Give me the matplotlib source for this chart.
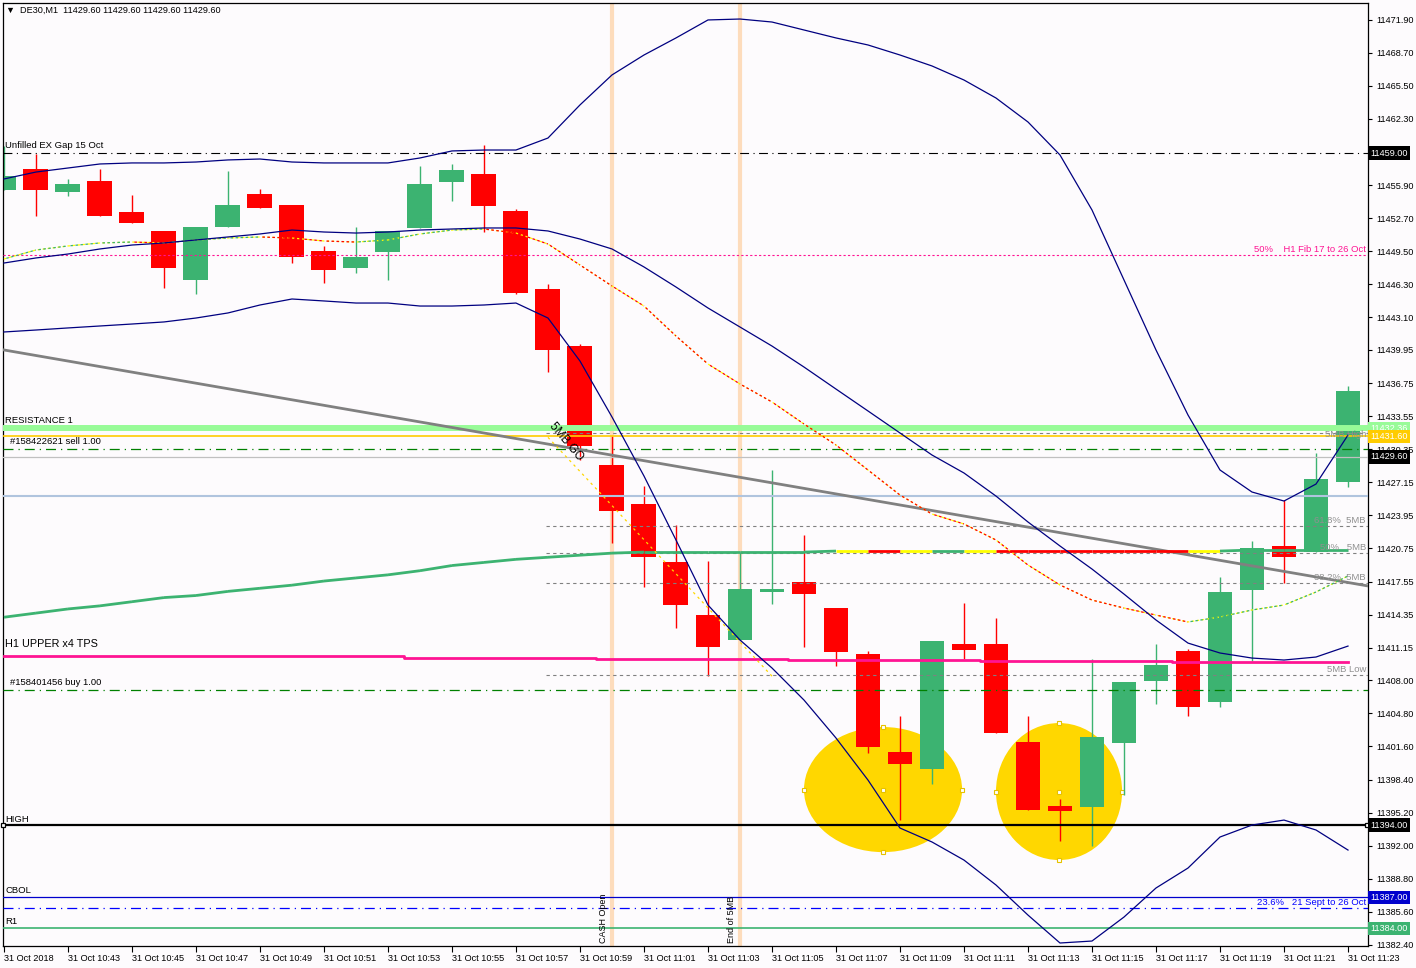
import matplotlib
matplotlib.use('Agg')
import matplotlib.pyplot as plt
import matplotlib.transforms as mtransforms
from matplotlib.patches import Ellipse, Rectangle

plt.rcParams['font.family'] = ['Liberation Sans', 'DejaVu Sans']

BG = '#fdfbfd'
GREEN = '#3cb371'
RED = '#ff0000'

# ---- DE30 M1 candles, 31 Oct 10:41 .. 11:23 ----
opens = [11455.4, 11457.5, 11455.2, 11456.3, 11453.3, 11451.5, 11446.7, 11451.8, 11455.0, 11454.0,
         11449.5, 11447.9, 11449.4, 11451.7, 11456.2, 11457.0, 11453.4, 11445.8, 11440.3, 11428.8,
         11425.1, 11419.4, 11414.3, 11411.9, 11416.5, 11417.5, 11415.0, 11410.5, 11401.1, 11399.4,
         11411.5, 11411.5, 11402.0, 11395.8, 11395.7, 11401.9, 11407.9, 11410.8, 11405.9, 11416.7,
         11421.0, 11420.4, 11427.2]
highs = [11459.7, 11458.9, 11456.5, 11457.5, 11454.9, 11451.5, 11451.8, 11457.3, 11455.5, 11454.0,
         11450.0, 11451.8, 11451.5, 11457.7, 11457.9, 11459.8, 11453.6, 11446.3, 11440.5, 11431.6,
         11426.8, 11423.0, 11419.5, 11420.4, 11428.3, 11422.1, 11415.0, 11410.8, 11404.5, 11411.8,
         11415.5, 11414.0, 11404.5, 11396.5, 11410.1, 11407.8, 11411.5, 11411.0, 11418.0, 11421.5,
         11425.4, 11430.0, 11436.5]
lows = [11455.4, 11452.9, 11454.8, 11452.9, 11452.2, 11445.9, 11445.4, 11451.8, 11453.7, 11448.4,
        11446.4, 11447.4, 11446.7, 11451.7, 11454.4, 11451.4, 11445.4, 11437.8, 11429.3, 11421.3,
        11417.0, 11413.1, 11408.4, 11411.9, 11415.4, 11411.2, 11409.4, 11401.0, 11394.5, 11398.0,
        11410.1, 11402.9, 11395.5, 11392.5, 11392.0, 11396.9, 11405.7, 11404.5, 11405.4, 11409.9,
        11417.4, 11420.4, 11426.7]
closes = [11456.8, 11455.4, 11456.0, 11452.9, 11452.2, 11447.9, 11451.8, 11454.0, 11453.7, 11448.9,
          11447.7, 11448.9, 11451.5, 11456.0, 11457.4, 11453.9, 11445.5, 11439.9, 11430.7, 11424.4,
          11419.9, 11415.3, 11411.2, 11416.8, 11416.8, 11416.3, 11410.7, 11401.5, 11399.9, 11411.8,
          11410.9, 11402.9, 11395.5, 11395.4, 11402.5, 11407.8, 11409.5, 11405.4, 11416.5, 11420.8,
          11419.9, 11427.5, 11436.0]

# bollinger bands
bb_upper = [11456.49, 11457.16, 11457.55, 11457.94, 11458.04, 11458.04, 11458.13, 11458.33, 11458.42, 11458.13,
            11458.04, 11458.04, 11458.04, 11458.52, 11459.20, 11459.29, 11459.29, 11460.45, 11463.65, 11466.55,
            11468.48, 11470.13, 11471.87, 11471.96, 11471.67, 11470.90, 11470.13, 11469.45, 11468.48, 11467.42,
            11466.06, 11464.32, 11462.00, 11458.81, 11453.49, 11446.72, 11439.95, 11433.66, 11428.34, 11426.21,
            11425.34, 11426.98, 11431.72]
bb_mid = [11448.36, 11448.85, 11449.23, 11449.72, 11450.10, 11450.30, 11450.59, 11450.88, 11451.17, 11451.55,
          11451.36, 11451.26, 11451.36, 11451.55, 11451.65, 11451.75, 11451.75, 11451.46, 11450.68, 11449.72,
          11447.98, 11446.04, 11444.01, 11442.17, 11440.33, 11438.30, 11436.17, 11434.05, 11431.92, 11429.79,
          11428.05, 11425.82, 11423.31, 11420.99, 11418.76, 11416.34, 11413.83, 11411.60, 11410.64, 11410.15,
          11409.96, 11410.25, 11411.31]
bb_lower = [11441.69, 11441.88, 11442.08, 11442.27, 11442.46, 11442.66, 11443.04, 11443.53, 11444.30, 11444.88,
            11444.69, 11444.49, 11444.49, 11444.20, 11444.20, 11444.30, 11444.49, 11443.04, 11438.88, 11433.47,
            11427.76, 11421.57, 11415.28, 11411.90, 11409.19, 11406.09, 11402.42, 11398.35, 11393.71, 11392.36,
            11390.61, 11388.20, 11385.29, 11382.59, 11382.78, 11385.10, 11387.91, 11389.84, 11392.84, 11394.00,
            11394.48, 11393.52, 11391.58]

# dotted moving average
ma_fast = [11448.75, 11449.62, 11450.01, 11450.30, 11450.39, 11450.30, 11450.59, 11450.78, 11450.88, 11450.78,
           11450.49, 11450.39, 11450.59, 11451.17, 11451.55, 11451.65, 11451.26, 11450.20, 11448.17, 11446.14,
           11444.20, 11441.30, 11438.59, 11436.66, 11434.92, 11432.79, 11430.76, 11428.34, 11425.92, 11424.08,
           11423.12, 11421.57, 11419.15, 11417.22, 11415.76, 11414.99, 11414.31, 11413.64, 11414.12, 11414.80,
           11415.28, 11416.54, 11418.09]

# thick slow moving average and its segment colours
ma_slow = [11414.1, 11414.5, 11414.9, 11415.2, 11415.6, 11416.0, 11416.2, 11416.6, 11416.9, 11417.2,
           11417.6, 11417.9, 11418.2, 11418.6, 11419.1, 11419.4, 11419.7, 11419.9, 11420.1, 11420.3,
           11420.4, 11420.4, 11420.4, 11420.4, 11420.4, 11420.4, 11420.5, 11420.5, 11420.5, 11420.5,
           11420.5, 11420.5, 11420.5, 11420.5, 11420.5, 11420.5, 11420.5, 11420.5, 11420.5, 11420.6,
           11420.6, 11420.6, 11420.6]
ma_slow_colors = ['g'] * 26 + ['y', 'r', 'y', 'g', 'y', 'r', 'r', 'r', 'r', 'r', 'r', 'y', 'g', 'g', 'g', 'g']

h1_upper = [11410.35] * 13 + [11410.15] * 6 + [11410.06] * 6 + [11409.96] * 6 + [11409.86] * 6 + [11409.77] * 6

xtick_labels = ['31 Oct 2018', '31 Oct 10:43', '31 Oct 10:45', '31 Oct 10:47', '31 Oct 10:49', '31 Oct 10:51',
                '31 Oct 10:53', '31 Oct 10:55', '31 Oct 10:57', '31 Oct 10:59', '31 Oct 11:01', '31 Oct 11:03',
                '31 Oct 11:05', '31 Oct 11:07', '31 Oct 11:09', '31 Oct 11:11', '31 Oct 11:13', '31 Oct 11:15',
                '31 Oct 11:17', '31 Oct 11:19', '31 Oct 11:21', '31 Oct 11:23']
ytick_levels = [11471.90, 11468.70, 11465.50, 11462.30, 11455.90, 11452.70, 11449.50, 11446.30, 11443.10,
                11439.95, 11436.75, 11433.55, 11430.35, 11427.15, 11423.95, 11420.75, 11417.55, 11414.35,
                11411.15, 11408.00, 11404.80, 11401.60, 11398.40, 11395.20, 11392.00, 11388.80, 11385.60, 11382.40]

# levels
gap_level = 11459.00
fib50_h1 = 11449.1
resistance = 11432.36
gold_level = 11431.60
mb_high = 11431.92
sell_level = 11430.37
bid = 11429.60
steel_level = 11425.82
mb_618 = 11422.92
mb_50 = 11420.31
mb_382 = 11417.41
mb_low = 11408.51
buy_level = 11407.06
high_level = 11394.00
cbol = 11387.00
fib236 = 11385.97
r1 = 11384.00

trend_pts = [(0, 11439.95), (42, 11417.46)]
mb_gi_pts = ([17, 24], [11431.5, 11408.4])
mb_start = 17
cash_open_idx = 19
end_5mb_idx = 23
ellipses = [(27.47, 11397.43, 4.94, 12.1), (32.97, 11397.24, 3.94, 13.25)]

# ---- figure ----
fig = plt.figure(figsize=(14.16, 9.68), dpi=100, facecolor=BG)
ax = fig.add_axes([3 / 1416, 22 / 968, 1365 / 1416, 943 / 968])
ax.set_facecolor(BG)
ax.set_xlim(-0.03, 42.625)
ax.set_ylim(11382.30, 11473.51)
n = len(opens)
xs = list(range(n))
blend = mtransforms.blended_transform_factory(ax.transAxes, ax.transData)

for cx, cy, w, h in ellipses:
    ax.add_patch(Ellipse((cx, cy), w, h, fc='#ffd700', ec='none', zorder=1))
    ax.plot([cx - w / 2, cx + w / 2, cx, cx, cx], [cy, cy, cy + h / 2, cy - h / 2, cy], 's',
            ms=3, mfc='white', mec='#e6c200', mew=0.8, zorder=1.2)

ax.axvline(cash_open_idx, color='#fddcbc', lw=3, zorder=1.3)
ax.axvline(end_5mb_idx, color='#fddcbc', lw=3, zorder=1.3)

# candles
for i in xs:
    o, h, l, c = opens[i], highs[i], lows[i], closes[i]
    col = GREEN if c >= o else RED
    ax.vlines(i, l, h, color=col, lw=1.0, zorder=2)
    ax.add_patch(Rectangle((i - 0.39, min(o, c)), 0.78, max(abs(c - o), 0.12),
                           fc=col, ec='none', zorder=2.1))

# horizontal levels
ax.axhline(gap_level, color='black', lw=0.8, ls=(0, (8, 4, 1, 4)), zorder=3)
ax.axhline(fib50_h1, color='#ff1493', lw=0.8, ls=(0, (2, 2)), zorder=3)
ax.axhline(resistance, color='#98fb98', lw=4.3, zorder=3)
ax.axhline(gold_level, color='#ffcc00', lw=1.2, zorder=3)
ax.axhline(sell_level, color='green', lw=0.9, ls=(0, (8, 4, 1, 4)), zorder=3)
ax.axhline(bid, color='#c0c0c0', lw=0.9, zorder=3)
ax.axhline(steel_level, color='#b0c4de', lw=1.5, zorder=3)
ax.axhline(buy_level, color='green', lw=0.9, ls=(0, (8, 4, 1, 4)), zorder=3)
ax.axhline(high_level, color='black', lw=1.6, zorder=3)
ax.axhline(cbol, color='#0000cd', lw=0.9, zorder=3)
ax.axhline(fib236, color='#0000ff', lw=0.9, ls=(0, (8, 4, 1, 4)), zorder=3)
ax.axhline(r1, color=GREEN, lw=1.2, zorder=3)
for lv in [mb_high, mb_618, mb_50, mb_382, mb_low]:
    ax.plot([mb_start - 0.05, 42.625], [lv, lv], color='#808080', lw=0.8, ls=(0, (3, 3)), zorder=3)

ax.plot([-0.03, 42.6], [high_level, high_level], 's', ms=3.5, mfc='white', mec='black',
        mew=0.9, clip_on=False, zorder=6)

# indicators
ax.axline(trend_pts[0], trend_pts[1], color='#808080', lw=2.0, zorder=3.2)
ax.plot(xs, h1_upper, color='#ff1493', lw=2.0, drawstyle='steps-mid', zorder=3.3)

cmap = {'g': GREEN, 'y': '#ffff00', 'r': RED}
for i in range(n - 1):
    ax.plot([i, i + 1], [ma_slow[i], ma_slow[i + 1]], color=cmap[ma_slow_colors[i]],
            lw=2.0, solid_capstyle='butt', zorder=3.4)

ax.plot(xs, ma_fast, color='#ffff00', lw=0.9, ls=(0, (2, 2)), zorder=3.5)
for i in range(n - 1):
    col = GREEN if ma_fast[i + 1] > ma_fast[i] else RED
    ax.plot([i, i + 1], [ma_fast[i], ma_fast[i + 1]], color=col, lw=0.9, ls=(2, (2, 2)), zorder=3.6)

ax.plot(mb_gi_pts[0], mb_gi_pts[1], color='#ffd700', lw=0.9, ls=(0, (2, 3)), zorder=3.6)

for band in (bb_upper, bb_mid, bb_lower):
    ax.plot(xs, band, color='#000080', lw=0.9, zorder=3.8)

# texts on chart
fs = 6.8
ax.text(0.0015, gap_level + 0.25, 'Unfilled EX Gap 15 Oct', fontsize=fs, transform=blend, va='bottom', zorder=7)
ax.text(0.0015, resistance + 0.3, 'RESISTANCE 1', fontsize=fs, transform=blend, va='bottom', zorder=7)
ax.text(0.005, sell_level + 0.25, '#158422621 sell 1.00', fontsize=fs, transform=blend, va='bottom', zorder=7)
ax.text(0.0015, h1_upper[0] + 0.7, 'H1 UPPER x4 TPS', fontsize=7.8, transform=blend, va='bottom', zorder=7)
ax.text(0.005, buy_level + 0.25, '#158401456 buy 1.00', fontsize=fs, transform=blend, va='bottom', zorder=7)
ax.text(0.0015, high_level + 0.1, 'HIGH', fontsize=fs, transform=blend, va='bottom', zorder=7)
ax.text(0.0015, cbol + 0.2, 'CBOL', fontsize=fs, transform=blend, va='bottom', zorder=7)
ax.text(0.0015, r1 + 0.2, 'R1', fontsize=fs, transform=blend, va='bottom', zorder=7)

ax.text(0.9985, fib50_h1 + 0.1, '50%    H1 Fib 17 to 26 Oct', fontsize=fs, color='#ff1493',
        transform=blend, va='bottom', ha='right', zorder=7)
ax.text(0.9985, mb_high - 0.1, '5MB High', fontsize=fs, color='#909090', transform=blend,
        va='center', ha='right', zorder=7)
ax.text(0.9985, mb_618 + 0.1, '61.8%  5MB', fontsize=fs, color='#909090', transform=blend,
        va='bottom', ha='right', zorder=7)
ax.text(0.9985, mb_50 + 0.1, '50%   5MB', fontsize=fs, color='#909090', transform=blend,
        va='bottom', ha='right', zorder=7)
ax.text(0.9985, mb_382 + 0.1, '38.2%  5MB', fontsize=fs, color='#909090', transform=blend,
        va='bottom', ha='right', zorder=7)
ax.text(0.9985, mb_low + 0.1, '5MB Low', fontsize=fs, color='#909090', transform=blend,
        va='bottom', ha='right', zorder=7)
ax.text(0.9985, fib236 + 0.1, '23.6%   21 Sept to 26 Oct', fontsize=fs, color='#0000ff',
        transform=blend, va='bottom', ha='right', zorder=7)

ax.text(17.55, 11431.1, '5MB GO', fontsize=8.5, rotation=-50, ha='center', va='center', zorder=7)
ax.text(cash_open_idx - 0.12, 11382.6, 'CASH Open', fontsize=6.5, rotation=90,
        ha='right', va='bottom', zorder=7)
ax.text(end_5mb_idx - 0.12, 11382.6, 'End of 5MB', fontsize=6.5, rotation=90,
        ha='right', va='bottom', zorder=7)

# right price boxes
boxes = [(gap_level, '11459.00', 'black'), (resistance, '11432.36', '#98fb98'),
         (gold_level, '11431.60', '#ffcc00'), (bid, '11429.60', 'black'),
         (high_level, '11394.00', 'black'), (cbol, '11387.00', '#0000cd'), (r1, '11384.00', GREEN)]
for lv, txt, col in boxes:
    ax.text(1.0015, lv, txt, transform=blend, fontsize=6.6, color='white', va='center', ha='left',
            clip_on=False, zorder=8,
            bbox=dict(boxstyle='square,pad=0.25', fc=col, ec='none'))

# axes style
for s in ax.spines.values():
    s.set_color('black')
    s.set_linewidth(0.9)
ax.yaxis.tick_right()
ax.set_yticks(ytick_levels)
ax.set_yticklabels(['%.2f' % v for v in ytick_levels])
ax.tick_params(axis='y', length=3, width=0.8, pad=3, labelsize=6.6, direction='out')
ax.set_xticks(list(range(0, 43, 2)))
ax.set_xticklabels(xtick_labels)
ax.tick_params(axis='x', length=4, width=0.8, pad=2, labelsize=6.6, direction='out')
for lbl in ax.get_xticklabels():
    lbl.set_horizontalalignment('left')

fig.text(6 / 1416, 1 - 10 / 968, '\u25bc  DE30,M1  11429.60 11429.60 11429.60 11429.60',
         fontsize=6.6, va='center', ha='left')

fig.savefig('out.png', dpi=100, facecolor=BG)
